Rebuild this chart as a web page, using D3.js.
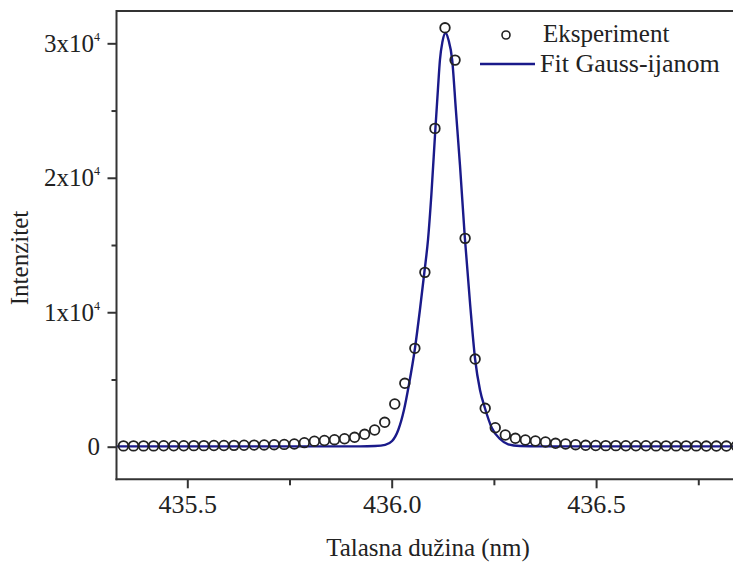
<!DOCTYPE html>
<html>
<head>
<meta charset="utf-8">
<script src="https://cdn.jsdelivr.net/npm/d3@7"></script>
<style>
  html, body { margin: 0; padding: 0; background: #fff; }
  svg { display: block; }
  text { font-family: "Liberation Serif", "Times New Roman", serif; fill: #222; }
</style>
</head>
<body>
<script>
// ---- data ----
const expX = [
  435.3438, 435.3684, 435.3930, 435.4176, 435.4422, 435.4668, 435.4913, 435.5159,
  435.5405, 435.5651, 435.5896, 435.6142, 435.6388, 435.6634, 435.6880, 435.7125,
  435.7371, 435.7617, 435.7863, 435.8109, 435.8354, 435.8600, 435.8846, 435.9092,
  435.9338, 435.9583, 435.9829, 436.0075, 436.0321, 436.0567, 436.0812, 436.1058,
  436.1304, 436.1550, 436.1796, 436.2041, 436.2287, 436.2533, 436.2779, 436.3025,
  436.3270, 436.3516, 436.3762, 436.4008, 436.4254, 436.4499, 436.4745, 436.4991,
  436.5237, 436.5483, 436.5728, 436.5974, 436.6220, 436.6466, 436.6712, 436.6957,
  436.7203, 436.7449, 436.7695, 436.7941, 436.8186, 436.8432
];
const expY = [
  60, 60, 60, 60, 70, 70, 70, 80,
  80, 90, 90, 100, 110, 120, 130, 150,
  170, 200, 300, 410, 460, 520, 590, 699,
  922, 1242, 1814, 3175, 4714, 7316, 12967, 23673,
  31153, 28751, 15495, 6520, 2855, 1413, 870, 625,
  498, 424, 349, 253, 201, 149, 104, 90,
  80, 80, 70, 70, 70, 60, 60, 60,
  60, 60, 50, 50, 50, 50
];
const fitX = [
  435.328, 435.9225, 435.959, 435.984, 436.001, 436.016, 436.030, 436.042,
  436.057, 436.069, 436.080, 436.089, 436.097, 436.107, 436.113, 436.118,
  436.124, 436.132, 436.139, 436.148, 436.157, 436.167, 436.179, 436.192,
  436.204, 436.216, 436.228, 436.245, 436.265, 436.285, 436.314, 436.363, 436.84
];
const fitY = [
  22, 22, 52, 141, 424, 1242, 2729, 4588,
  7340, 10166, 12993, 15447, 18719, 23701, 26527, 28758,
  30097, 30767, 30246, 28758, 25040, 20950, 15521, 10538,
  6522, 4216, 2877, 1390, 573, 178, 52, 22, 22
];
const xMajor = [435.5, 436.0, 436.5];
const xMinor = [435.75, 436.25, 436.75];
const yMajor = [0, 10000, 20000, 30000];
const yMinor = [5000, 15000, 25000];
const yLabels = [["0", ""], ["1x10", "4"], ["2x10", "4"], ["3x10", "4"]];
const legendLabels = ["Eksperiment", "Fit Gauss-ijanom"];
const xTitle = "Talasna dužina (nm)";
const yTitle = "Intenzitet";

// ---- layout ----
const W = 733, H = 562;
const L = 116.5, R = 735, T = 11, B = 479.3;
const axisCol = "#333", lineCol = "#1a1a8a", ptCol = "#222";
const FS = 25;

const svg = d3.select("body").append("svg").attr("width", W).attr("height", H);

const x = d3.scaleLinear().domain([435.3268, 436.8398]).range([L, R]);
const y = d3.scaleLinear().domain([-2424, 32403]).range([B, T]);

// fit line
const fitData = fitX.map((v, i) => [v, fitY[i]]);
svg.append("path")
  .datum(fitData)
  .attr("fill", "none")
  .attr("stroke", lineCol)
  .attr("stroke-width", 2.4)
  .attr("d", d3.line().x(d => x(d[0])).y(d => y(d[1])).curve(d3.curveMonotoneX));

// experiment points
svg.append("g").selectAll("circle")
  .data(expX.map((v, i) => [v, expY[i]]))
  .join("circle")
  .attr("cx", d => x(d[0]))
  .attr("cy", d => y(d[1]))
  .attr("r", 4.8)
  .attr("fill", "none")
  .attr("stroke", ptCol)
  .attr("stroke-width", 1.8);

// frame
svg.append("line").attr("x1", L).attr("x2", W).attr("y1", T).attr("y2", T)
  .attr("stroke", axisCol).attr("stroke-width", 2);

// x axis
const xAxisG = svg.append("g").attr("transform", `translate(0,${B})`);
xAxisG.call(d3.axisBottom(x).tickValues(xMajor).tickSize(9).tickSizeOuter(0).tickPadding(6)
  .tickFormat(d3.format(".1f")));
xAxisG.append("g").call(d3.axisBottom(x).tickValues(xMinor).tickSize(6).tickSizeOuter(0).tickFormat(""))
  .select(".domain").remove();
xAxisG.selectAll(".domain").attr("stroke", axisCol).attr("stroke-width", 2)
  .attr("d", `M${L - 1},0H${W + 5}`);
xAxisG.selectAll(".tick line").attr("stroke", axisCol).attr("stroke-width", 2);
xAxisG.selectAll(".tick text").attr("font-size", FS + 1).attr("fill", "#222")
  .attr("font-family", "Liberation Serif, Times New Roman, serif");

// y axis
const yAxisG = svg.append("g").attr("transform", `translate(${L},0)`);
yAxisG.call(d3.axisLeft(y).tickValues(yMajor).tickSize(9).tickSizeOuter(0).tickFormat(""));
yAxisG.append("g").call(d3.axisLeft(y).tickValues(yMinor).tickSize(5).tickSizeOuter(0).tickFormat(""))
  .select(".domain").remove();
yAxisG.selectAll(".domain").attr("stroke", axisCol).attr("stroke-width", 2)
  .attr("d", `M0,${B + 1}V${T - 1}`);
yAxisG.selectAll(".tick line").attr("stroke", axisCol).attr("stroke-width", 2);

// y tick labels with superscripts
yMajor.forEach((v, i) => {
  const [base, sup] = yLabels[i];
  const t = svg.append("text")
    .attr("x", 100)
    .attr("y", y(v) + 8.5)
    .attr("text-anchor", "end")
    .attr("font-size", FS);
  t.append("tspan").text(base);
  if (sup) t.append("tspan").attr("font-size", 12).attr("dy", -11).text(sup);
});

// axis titles
svg.append("text").attr("x", 428).attr("y", 556)
  .attr("text-anchor", "middle").attr("font-size", FS).text(xTitle);
svg.append("text")
  .attr("transform", `translate(28,${258}) rotate(-90)`)
  .attr("text-anchor", "middle").attr("font-size", FS).text(yTitle);

// legend
svg.append("circle").attr("cx", 506).attr("cy", 35).attr("r", 4)
  .attr("fill", "none").attr("stroke", ptCol).attr("stroke-width", 1.6);
svg.append("text").attr("x", 543).attr("y", 42).attr("font-size", FS).text(legendLabels[0]);
svg.append("line").attr("x1", 480).attr("x2", 535).attr("y1", 64).attr("y2", 64)
  .attr("stroke", lineCol).attr("stroke-width", 2.4);
svg.append("text").attr("x", 540).attr("y", 72).attr("font-size", FS + 1).text(legendLabels[1]);
</script>
</body>
</html>
